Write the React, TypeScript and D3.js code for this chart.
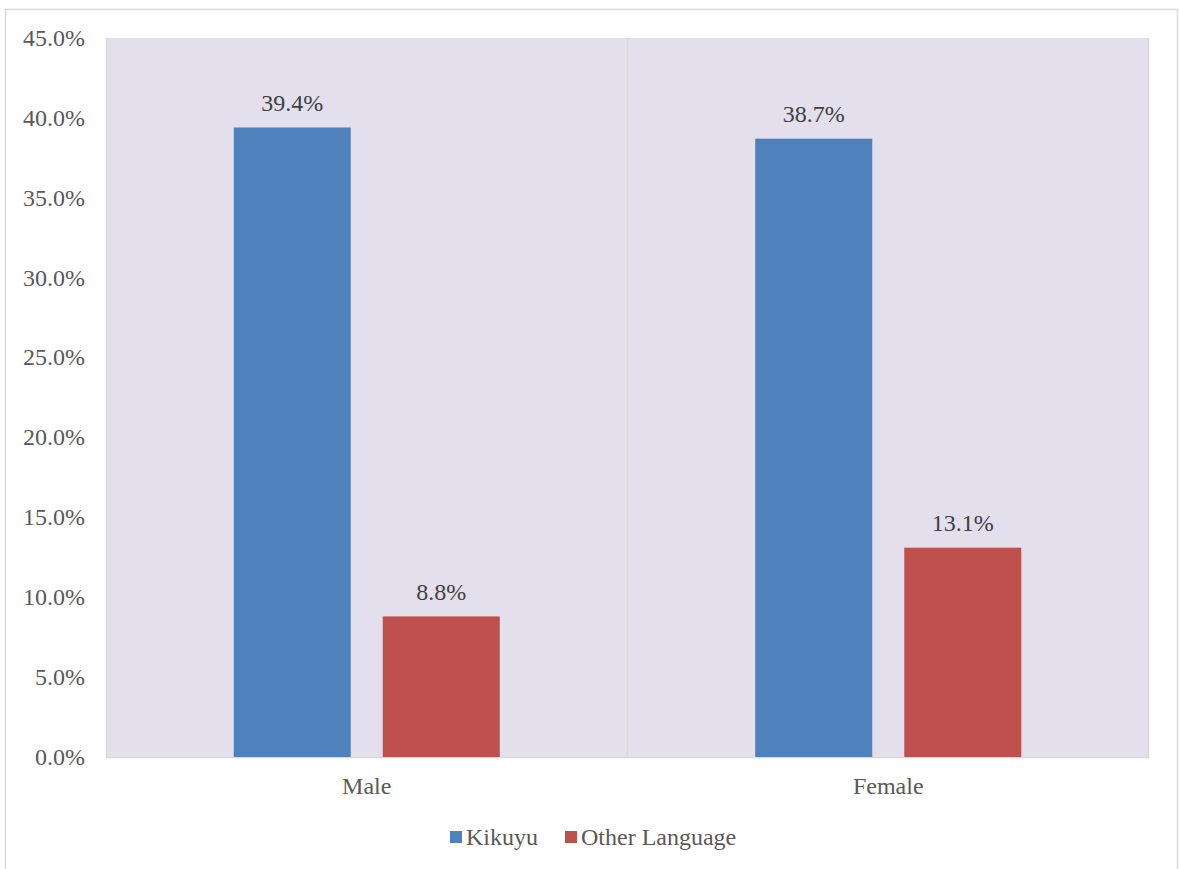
import React from "react";
import * as d3 from "d3";

const categories = ["Male", "Female"];
const seriesNames = ["Kikuyu", "Other Language"];
const kikuyu = [39.4, 38.7];
const otherLanguage = [8.8, 13.1];
const yTicks = [0, 5, 10, 15, 20, 25, 30, 35, 40, 45];
const seriesColors = ["#4F81BD", "#C0504D"];

const W = 1180;
const H = 869;
const plot = { left: 106, right: 1149, top: 38, bottom: 757 };
const font = "'Liberation Serif', 'Times New Roman', serif";
const textColor = "#595959";
const fontSize = 24;

export default function App() {
  const values = [kikuyu, otherLanguage];
  const y = d3.scaleLinear().domain([0, 45]).range([plot.bottom, plot.top]);
  const x0 = d3.scaleBand<string>().domain(categories).range([plot.left, plot.right]).padding(0);
  const x1 = d3
    .scaleBand<string>()
    .domain(seriesNames)
    .range([0, x0.bandwidth()])
    .paddingInner(0.2148)
    .paddingOuter(0.857);
  const fmt = (v: number) => v.toFixed(1) + "%";
  const textStyle = { fontFamily: font, fontSize };

  return (
    <div style={{ position: "absolute", left: 0, top: 0 }}>
      <svg width={W} height={H} style={{ display: "block" }}>
        <rect x={0} y={0} width={W} height={H} fill="#fff" />
        <rect x={5.5} y={9.5} width={1172} height={H + 10} fill="#fff" stroke="#D9D9D9" strokeWidth={1.5} />
        <rect
          x={plot.left}
          y={plot.top}
          width={plot.right - plot.left}
          height={plot.bottom - plot.top}
          fill="#E4DFEC"
        />
        {/* plot frame: left, right, bottom */}
        <path
          d={`M${plot.left + 0.5},${plot.top} V${plot.bottom + 0.5} H${plot.right - 0.5} V${plot.top}`}
          fill="none"
          stroke="#D9D9D9"
          strokeWidth={1.5}
        />
        {/* category separator */}
        {categories.slice(1).map((c) => (
          <line
            key={c}
            x1={x0(c)!}
            x2={x0(c)!}
            y1={plot.top}
            y2={plot.bottom}
            stroke="#D9D9D9"
            strokeWidth={1.5}
          />
        ))}
        {yTicks.map((t) => (
          <text
            key={t}
            x={85}
            y={y(t)}
            dy="0.33em"
            textAnchor="end"
            style={textStyle}
            fill={textColor}
          >
            {fmt(t)}
          </text>
        ))}
        {categories.map((c, ci) =>
          seriesNames.map((s, si) => {
            const v = values[si][ci];
            const bx = x0(c)! + x1(s)!;
            return (
              <g key={c + s}>
                <rect
                  x={bx}
                  y={y(v)}
                  width={x1.bandwidth()}
                  height={y(0) - y(v)}
                  fill={seriesColors[si]}
                />
                <text
                  x={bx + x1.bandwidth() / 2}
                  y={y(v) - 16.5}
                  textAnchor="middle"
                  style={textStyle}
                  fill="#404040"
                >
                  {fmt(v)}
                </text>
              </g>
            );
          })
        )}
        {categories.map((c) => (
          <text
            key={c}
            x={x0(c)! + x0.bandwidth() / 2}
            y={786}
            dy="0.33em"
            textAnchor="middle"
            style={textStyle}
            fill={textColor}
          >
            {c}
          </text>
        ))}
        {/* legend */}
        {seriesNames.map((s, i) => {
          const lx = [450, 565][i];
          return (
            <g key={s}>
              <rect x={lx} y={831} width={12} height={12} fill={seriesColors[i]} />
              <text
                x={lx + 16}
                y={837}
                dy="0.33em"
                style={textStyle}
                fill={textColor}
              >
                {s}
              </text>
            </g>
          );
        })}
      </svg>
    </div>
  );
}
